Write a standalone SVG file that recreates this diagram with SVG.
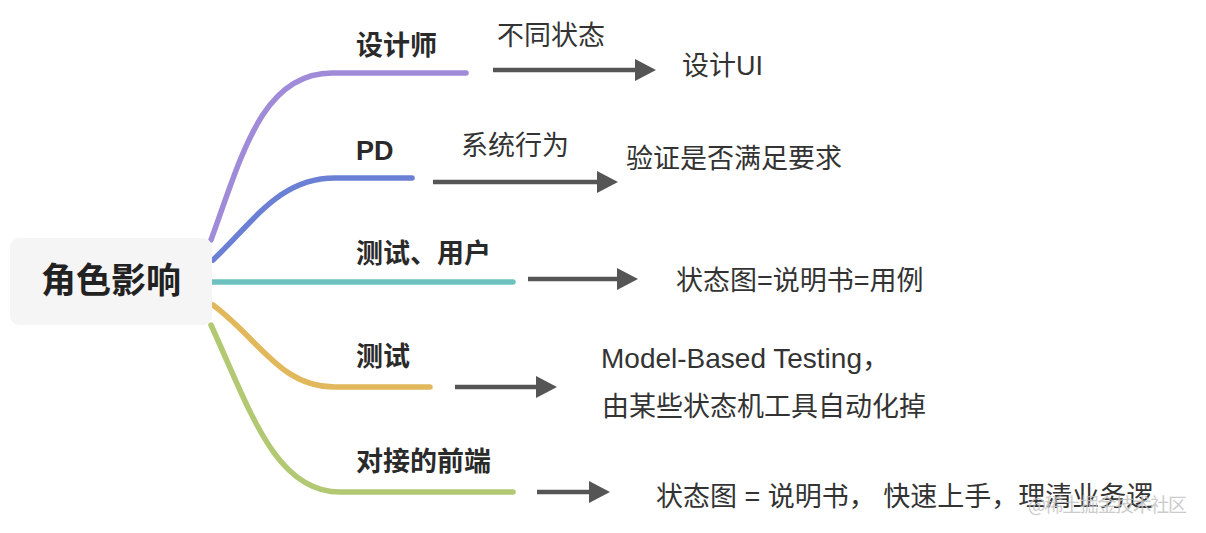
<svg xmlns="http://www.w3.org/2000/svg" width="1206" height="533" viewBox="0 0 1206 533">
<defs>
<style>
.br{fill:none;stroke-width:5.5;stroke-linecap:round;stroke-linejoin:round}
.ar{stroke:#555;stroke-width:4.5;fill:none}
.t{font-family:"Liberation Sans","Noto Sans CJK SC",sans-serif;fill:#333;font-size:27px}
.lb{font-weight:600;fill:#2a2a2a}
</style>
<marker id="ah" viewBox="0 0 21 22" refX="0" refY="11" markerWidth="21" markerHeight="22" markerUnits="userSpaceOnUse" orient="auto">
<path d="M0,0 L21,11 L0,22 z" fill="#555"/>
</marker>
</defs>
<rect width="1206" height="533" fill="#fff"/>
<g id="connectors">
<path class="br" stroke="#a08bd9" d="M211,240 C242,155 262,73 332,73 L466,73"/>
<path class="br" stroke="#6b80d5" d="M213,260 C255,220 280,178 335,178 L412,178"/>
<path class="br" stroke="#6dc2bf" d="M212,282 L513,282"/>
<path class="br" stroke="#e1b85c" d="M213,305 C260,340 280,387 335,387 L430,387"/>
<path class="br" stroke="#b3c872" d="M211,325 C250,410 275,492 340,492 L513,492"/>
<line class="ar" x1="493" y1="70" x2="635" y2="70" marker-end="url(#ah)"/>
<line class="ar" x1="433" y1="182" x2="597" y2="182" marker-end="url(#ah)"/>
<line class="ar" x1="528" y1="279" x2="617" y2="279" marker-end="url(#ah)"/>
<line class="ar" x1="455" y1="387" x2="536" y2="387" marker-end="url(#ah)"/>
<line class="ar" x1="537" y1="492" x2="589" y2="492" marker-end="url(#ah)"/>
<text class="t" x="497" y="45">不同状态</text>
<text class="t" x="461" y="155">系统行为</text>
</g>
<g id="root">
<rect x="10" y="238" width="202" height="87" rx="9" fill="#f5f5f5"/>
<text class="t" x="111" y="293" text-anchor="middle" style="font-size:35px;font-weight:700;fill:#222">角色影响</text>
</g>
<g id="designer"><text class="t lb" x="356" y="55">设计师</text></g>
<g id="pd"><text class="t lb" x="356" y="160">PD</text></g>
<g id="tester-user"><text class="t lb" x="356" y="263">测试、用户</text></g>
<g id="tester"><text class="t lb" x="356" y="366">测试</text></g>
<g id="frontend"><text class="t lb" x="356" y="471">对接的前端</text></g>
<g id="design-ui"><text class="t" x="682" y="75">设计UI</text></g>
<g id="verify"><text class="t" x="626" y="168">验证是否满足要求</text></g>
<g id="usecase"><text class="t" x="676" y="290">状态图=说明书=用例</text></g>
<g id="mbt">
<text class="t" x="601" y="368" style="font-size:28px">Model-Based Testing，</text>
<text class="t" x="602" y="416">由某些状态机工具自动化掉</text>
</g>
<g id="manual"><text class="t" x="656" y="506" xml:space="preserve">状态图 = 说明书， 快速上手，理清业务逻</text></g>
<text x="1028" y="512" textLength="159" style="font-family:'Noto Sans CJK SC',sans-serif;font-size:19px;fill:#c4c4c4;opacity:0.85">@稀土掘金技术社区</text>
</svg>
